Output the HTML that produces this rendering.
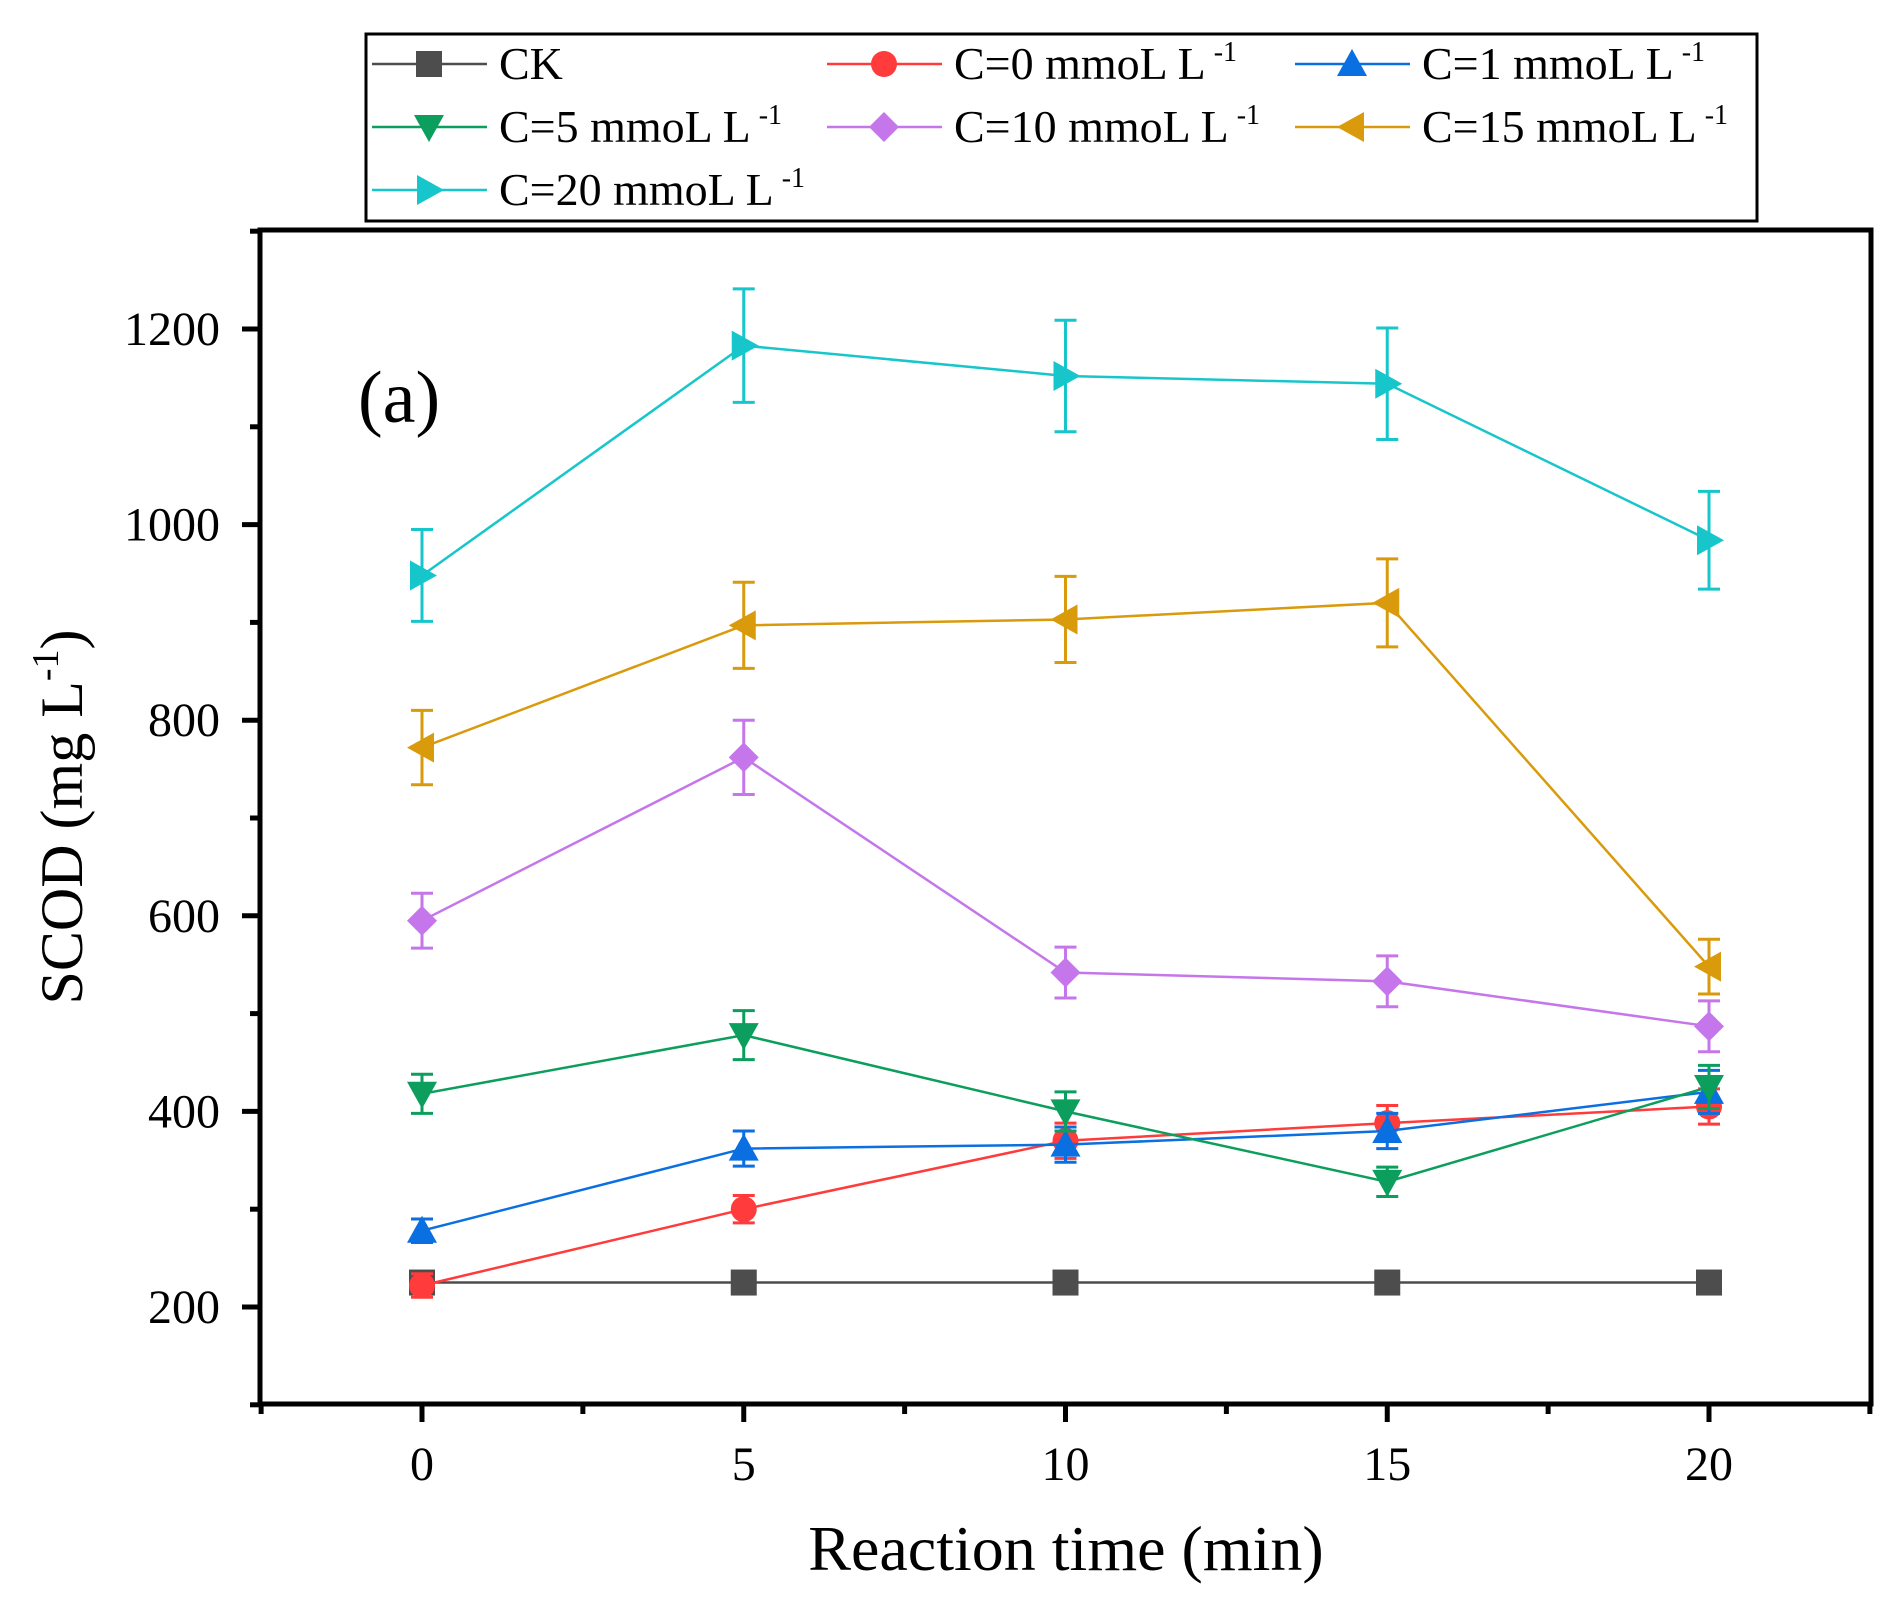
<!DOCTYPE html>
<html><head><meta charset="utf-8"><style>
body{margin:0;background:#fff}
svg{display:block;font-family:"Liberation Serif",serif}
</style></head><body>
<svg id="chart" width="1888" height="1604" viewBox="0 0 1888 1604" xmlns="http://www.w3.org/2000/svg">
<rect width="1888" height="1604" fill="#fff"/>
<g id="plot"></g>
<text x="358" y="422" font-size="74">(a)</text>
<text x="1066" y="1570" font-size="64" text-anchor="middle">Reaction time (min)</text>
<text transform="translate(82,817) rotate(-90)" font-size="60" text-anchor="middle">SCOD (mg L<tspan font-size="38" dy="-24">-1</tspan><tspan dy="24">)</tspan></text>
<g id="legend"></g>
</svg>
<script>
const xValues=[0,5,10,15,20];
const yTicks=[200,400,600,800,1000,1200];
const xTicks=[0,5,10,15,20];
const seriesNames=["CK","C=0 mmoL L","C=1 mmoL L","C=5 mmoL L","C=10 mmoL L","C=15 mmoL L","C=20 mmoL L"];
const ckVals=[225,225,225,225,225];
const c0Vals=[222,300,370,388,405];
const c1Vals=[278,362,366,380,420];
const c5Vals=[418,478,400,328,425];
const c10Vals=[595,762,542,533,487];
const c15Vals=[772,897,903,920,548];
const c20Vals=[948,1183,1152,1144,984];
const ckErr=[0,0,0,0,0];
const c0Err=[12,14,18,18,18];
const c1Err=[12,18,18,18,22];
const c5Err=[20,25,20,15,22];
const c10Err=[28,38,26,26,26];
const c15Err=[38,44,44,45,28];
const c20Err=[47,58,57,57,50];

const NS="http://www.w3.org/2000/svg";
const L=260,R=1871,T=230,B=1404;
const X=v=>422+(v)*(1709-422)/20;
const Y=v=>1307-(v-200)*(1307-329)/1000;
function mk(tag,attrs,parent){const e=document.createElementNS(NS,tag);for(const k in attrs)e.setAttribute(k,attrs[k]);parent.appendChild(e);return e;}
const plot=document.getElementById('plot');
const colors=["#4d4d4d","#ff3b3b","#0a6fe0","#0b9e5c","#c576ea","#d99a0b","#17c6cb"];
const shapes=["square","circle","up","down","diamond","left","right"];
const vals=[ckVals,c0Vals,c1Vals,c5Vals,c10Vals,c15Vals,c20Vals];
const errs=[ckErr,c0Err,c1Err,c5Err,c10Err,c15Err,c20Err];

function marker(shape,cx,cy,col,parent){
  const s=15;let e;
  if(shape==="square")e=mk('rect',{x:cx-13,y:cy-13,width:26,height:26,fill:col},parent);
  else if(shape==="circle")e=mk('circle',{cx:cx,cy:cy,r:13,fill:col},parent);
  else{let p;
    if(shape==="up")p=[[cx,cy-s],[cx+s,cy+s*0.8],[cx-s,cy+s*0.8]];
    if(shape==="down")p=[[cx,cy+s],[cx+s,cy-s*0.8],[cx-s,cy-s*0.8]];
    if(shape==="left")p=[[cx-s,cy],[cx+s*0.8,cy-s],[cx+s*0.8,cy+s]];
    if(shape==="right")p=[[cx+s,cy],[cx-s*0.8,cy-s],[cx-s*0.8,cy+s]];
    if(shape==="diamond")p=[[cx,cy-s],[cx+s,cy],[cx,cy+s],[cx-s,cy]];
    e=mk('polygon',{points:p.map(q=>q.join(',')).join(' '),fill:col},parent);}
  return e;
}

const frame=mk('rect',{x:L,y:T,width:R-L,height:B-T,fill:'none',stroke:'#000','stroke-width':5},plot);


for(let v=-2.5;v<=22.5;v+=2.5){
  const major=xTicks.includes(v);
  const t=mk('line',{x1:X(v),x2:X(v),y1:B,y2:B+(major?18:10),stroke:'#000','stroke-width':5},plot);
  
  
}
xTicks.forEach(v=>{const t=mk('text',{x:X(v),y:B+76,'font-size':48,'text-anchor':'middle'},plot);t.textContent=v;
  
  });
for(let v=100;v<=1300;v+=100){
  const major=yTicks.includes(v);
  const t=mk('line',{x1:L-(major?18:10),x2:L,y1:Y(v),y2:Y(v),stroke:'#000','stroke-width':5},plot);
  
  
}
yTicks.forEach(v=>{const t=mk('text',{x:L-40,y:Y(v)+16,'font-size':48,'text-anchor':'end'},plot);t.textContent=v;
  
  });
vals.forEach((arr,i)=>{
  const g=mk('g',{},plot);
  
  
  const pl=mk('polyline',{points:arr.map((v,j)=>X(xValues[j])+','+Y(v)).join(' '),fill:'none',stroke:colors[i],'stroke-width':2.5},g);
  
  
  arr.forEach((v,j)=>{
    const e=errs[i][j];
    if(e>0){const cx=X(xValues[j]);
      const eb=mk('path',{d:`M${cx},${Y(v+e)}V${Y(v-e)}M${cx-11},${Y(v+e)}H${cx+11}M${cx-11},${Y(v-e)}H${cx+11}`,stroke:colors[i],'stroke-width':3,fill:'none'},g);
      
      }
    const m=marker(shapes[i],X(xValues[j]),Y(v),colors[i],g);
    
    
  });
});
const lg=document.getElementById('legend');
mk('rect',{x:366,y:34,width:1391,height:187,fill:'#fff',stroke:'#000','stroke-width':3},lg);
const colX=[372,827,1295],rowY=[64,127,190];
seriesNames.forEach((n,i)=>{
  const cx=colX[i%3],cy=rowY[Math.floor(i/3)];
  const g=mk('g',{},lg);
  
  
  mk('line',{x1:cx,x2:cx+115,y1:cy,y2:cy,stroke:colors[i],'stroke-width':2.5},g);
  marker(shapes[i],cx+57,cy,colors[i],g);
  const t=mk('text',{x:cx+127,y:cy+15,'font-size':46},g);
  t.textContent=n;
  if(i>0){const s=mk('tspan',{'font-size':28,dy:-18,dx:8},t);s.textContent='-1';}
});
</script>
</body></html>
